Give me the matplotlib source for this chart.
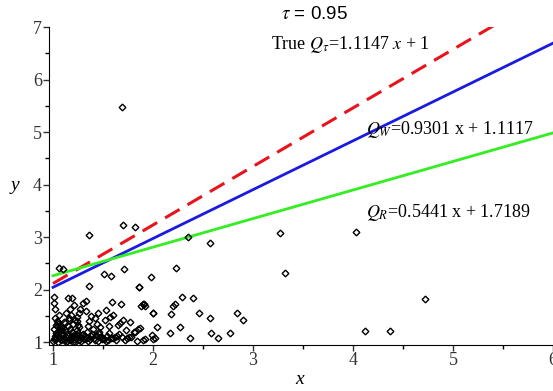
import numpy as np
import matplotlib
matplotlib.use("Agg")
import matplotlib.pyplot as plt
from matplotlib.ticker import MultipleLocator

plt.rcParams['font.family'] = ['Liberation Serif', 'DejaVu Serif']
plt.rcParams['mathtext.fontset'] = 'stix'

# fitted quantile lines (slope, intercept)
tau = 0.95
true_q = (1.1147, 1.0)
q_w = (0.9301, 1.1117)
q_r = (0.5441, 1.7189)

# scatter sample
xs = [1.69, 1.70, 1.82, 1.36, 2.35, 2.57, 3.27, 3.32, 4.03, 4.12, 4.37, 4.72,
      1.06, 1.10, 1.36, 1.51, 1.58, 1.71, 2.23, 1.98, 1.86, 2.29, 2.40, 2.46,
      2.57, 2.84, 2.90, 2.77, 2.58, 2.65, 2.37, 2.27, 2.17, 2.18, 2.20, 2.22,
      2.04, 2.00, 1.99, 2.00, 1.92, 1.90, 1.92, 1.87, 1.82, 1.77, 1.70, 1.67,
      1.68, 1.59, 1.60, 1.53, 1.52, 1.47,
      1.00, 1.01, 1.02, 1.03, 1.01, 1.04, 1.05, 1.02, 1.06, 1.03, 1.07, 1.08,
      1.01, 1.01, 1.02, 1.09, 1.05, 1.04, 1.08, 1.10,
      1.12, 1.13, 1.14, 1.12, 1.15, 1.16, 1.18, 1.15, 1.19, 1.17, 1.13, 1.18,
      1.19, 1.11, 1.17, 1.20,
      1.21, 1.22, 1.23, 1.24, 1.25, 1.22, 1.26, 1.27, 1.28, 1.29, 1.21, 1.24,
      1.28, 1.30, 1.26,
      1.31, 1.32, 1.33, 1.34, 1.35, 1.36, 1.37, 1.38, 1.33, 1.39, 1.40, 1.35,
      1.41, 1.43, 1.44, 1.45, 1.46, 1.47, 1.48, 1.42, 1.49, 1.45,
      1.51, 1.54, 1.55, 1.56, 1.57, 1.58, 1.56,
      1.62, 1.63, 1.65, 1.72, 1.74, 1.76, 1.66, 1.73,
      1.78, 1.81, 1.85, 1.88, 1.91, 1.90, 2.00, 2.02, 1.86, 1.84,
      1.02, 1.04, 1.06, 1.08, 1.03, 1.05, 1.07, 1.09, 1.11, 1.13, 1.15, 1.17,
      1.19, 1.21, 1.23, 1.25, 1.27, 1.10, 1.14, 1.18, 1.22, 1.26, 1.30, 1.34,
      1.38, 1.42, 1.46, 1.50, 1.53, 1.60, 1.64, 1.69, 1.12, 1.16, 1.20, 1.24]
ys = [5.48, 3.23, 3.19, 3.04, 3.00, 2.89, 3.07, 2.31, 3.10, 1.21, 1.21, 1.82,
      2.41, 2.39, 2.07, 2.30, 2.26, 2.39, 2.41, 2.24, 2.05, 1.86, 1.84, 1.55,
      1.46, 1.55, 1.42, 1.17, 1.17, 1.08, 1.08, 1.29, 1.17, 1.53, 1.69, 1.72,
      1.29, 1.55, 1.13, 1.06, 1.69, 1.72, 1.06, 1.27, 1.19, 1.38, 1.42, 1.36,
      1.72, 1.76, 1.51, 1.61, 1.42, 1.29,
      1.02, 1.06, 1.12, 1.18, 1.25, 1.30, 1.38, 1.45, 1.52, 1.05, 1.10, 1.15,
      1.86, 1.74, 1.62, 1.22, 1.35, 1.40, 1.28, 1.08,
      1.03, 1.09, 1.15, 1.22, 1.30, 1.45, 1.52, 1.84, 1.84, 1.62, 1.55, 1.06,
      1.12, 1.38, 1.25, 1.00,
      1.05, 1.10, 1.16, 1.22, 1.32, 1.42, 1.55, 1.62, 1.08, 1.14, 1.70, 1.48,
      1.02, 1.74, 1.28,
      1.06, 1.12, 1.78, 1.20, 1.30, 1.40, 1.05, 1.50, 1.60, 1.15, 1.25, 1.02,
      1.08, 1.14, 1.35, 1.02, 1.20, 1.10, 1.10, 1.45, 1.05, 1.55,
      1.06, 1.12, 1.03, 1.18, 1.48, 1.08, 1.30,
      1.10, 1.04, 1.32, 1.04, 1.08, 1.10, 1.15, 1.22,
      1.10, 1.19, 1.25, 1.69, 1.72, 1.04, 1.55, 1.08, 2.05, 1.02,
      1.08, 1.14, 1.20, 1.03, 1.33, 1.01, 1.24, 1.17, 1.06, 1.01, 1.12, 1.04,
      1.20, 1.13, 1.07, 1.18, 1.11, 1.27, 1.02, 1.09, 1.01, 1.04, 1.16, 1.08,
      1.12, 1.04, 1.16, 1.08, 1.02, 1.07, 1.12, 1.09, 1.36, 1.42, 1.35, 1.40]

fig = plt.figure(figsize=(5.53, 3.91), dpi=100)
ax = fig.add_axes([0.0886, 0.1176, 0.9114, 0.8133])

xx = np.linspace(1, 6, 200)
ax.plot(xx, true_q[0] * xx + true_q[1], color='#e8141b', lw=2.2,
        dashes=(5.5, 3))
ax.plot(xx, q_w[0] * xx + q_w[1], color='#1a1ae0', lw=2.0)
ax.plot(xx, q_r[0] * xx + q_r[1], color='#33ee22', lw=2.0)
ax.plot(xs, ys, linestyle='none', marker='D', ms=3.4, mfc='none',
        mec='black', mew=1.0)

ax.set_xlim(0.96, 6.0)
ax.set_ylim(0.943, 7.0)
ax.xaxis.set_major_locator(MultipleLocator(1))
ax.xaxis.set_minor_locator(MultipleLocator(0.5))
ax.yaxis.set_major_locator(MultipleLocator(1))
ax.yaxis.set_minor_locator(MultipleLocator(0.5))
ax.spines['top'].set_visible(False)
ax.spines['right'].set_visible(False)
ax.tick_params(which='major', length=4, width=1, labelsize=13, pad=1,
               colors='#333333')
ax.tick_params(which='minor', length=3, width=1)

ax.text(3.28, 7.23, r'$\tau$ = %.2f' % tau, family='Liberation Sans',
        fontsize=13.5, va='center', clip_on=False)
ax.text(3.18, 6.66, r'True $Q_\tau$=%.4f $x$ + %g' % true_q, fontsize=13,
        va='center')
ax.text(4.13, 5.04, r'$Q_W$=%.4f x + %.4f' % q_w, fontsize=13, va='center')
ax.text(4.13, 3.46, r'$Q_R$=%.4f x + %.4f' % q_r, fontsize=13, va='center')

fig.text(15 / 553, 1 - 185 / 391, 'y', style='italic', fontsize=14,
         ha='center', va='center')
fig.text(300 / 553, 1 - 380 / 391, 'x', style='italic', fontsize=14,
         ha='center', va='center')

fig.savefig('out.png', dpi=100)
